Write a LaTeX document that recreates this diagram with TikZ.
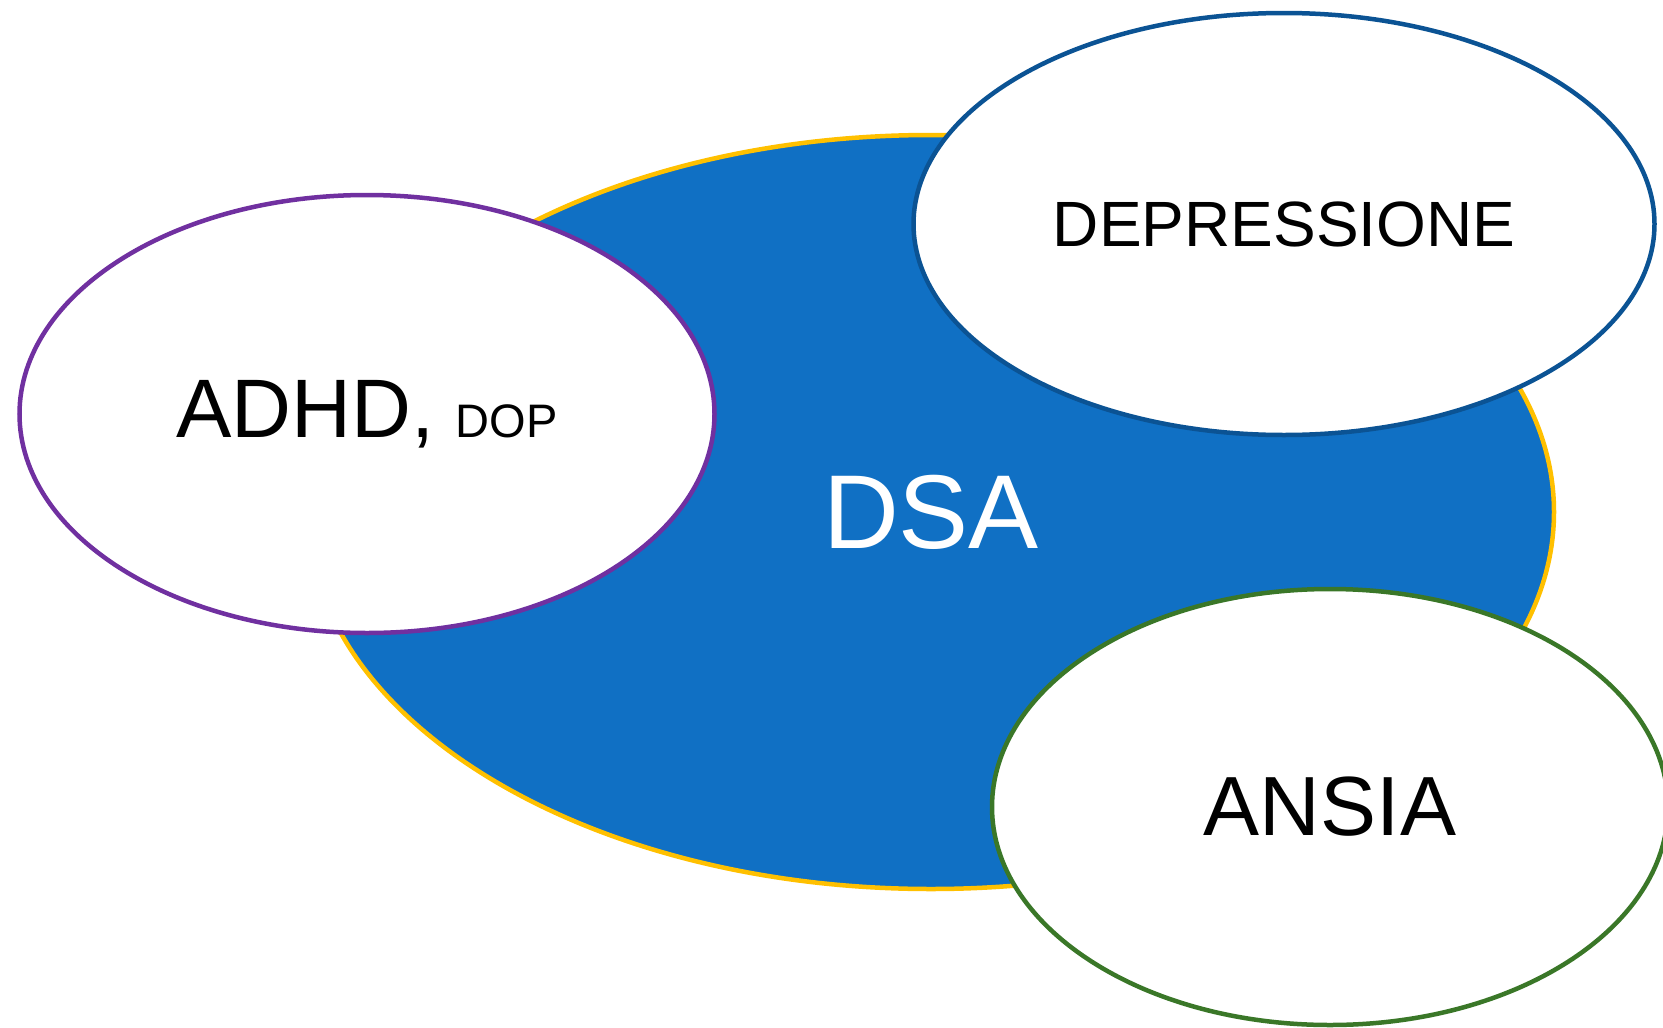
\documentclass[tikz,border=0pt]{standalone}
\usepackage{fontspec}
\setmainfont{Liberation Sans}
\usetikzlibrary{shapes.geometric}
\definecolor{dsablue}{HTML}{1070C4}
\definecolor{dsayellow}{HTML}{FFC000}
\definecolor{adhdpurple}{HTML}{7030A0}
\definecolor{depblue}{HTML}{0B5394}
\definecolor{ansiagreen}{HTML}{3A7728}
\tikzset{
  blob/.style={ellipse, line width=4.5pt, inner sep=0pt, align=center},
}
\begin{document}
\begin{tikzpicture}[x=1pt, y=-1pt]
    \useasboundingbox (0, 0) rectangle (1663, 1028);
    \node[blob, draw=dsayellow, fill=dsablue, text=white,
          minimum width=1246pt, minimum height=754pt,
          font=\fontsize{105}{110}\selectfont] (dsa) at (931, 512) {DSA};
    \node[blob, draw=adhdpurple, fill=white,
          minimum width=695pt, minimum height=438pt,
          font=\fontsize{83}{90}\selectfont] (adhd) at (367, 414)
          {ADHD,\kern-2pt\ {\fontsize{47}{50}\selectfont DOP}};
    \node[blob, draw=depblue, fill=white,
          minimum width=741pt, minimum height=422pt,
          font=\fontsize{64}{70}\selectfont] (depressione) at (1284, 224) {DEPRESSIONE};
    \node[blob, draw=ansiagreen, fill=white,
          minimum width=676pt, minimum height=436pt,
          font=\fontsize{84}{90}\selectfont] (ansia) at (1330, 807) {ANSIA};
  \end{tikzpicture}
\end{document}
